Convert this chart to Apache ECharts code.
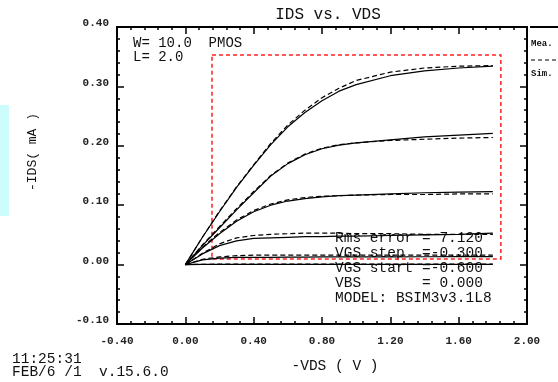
<!DOCTYPE html>
<html><head><meta charset="utf-8">
<script src="https://cdn.jsdelivr.net/npm/echarts@6/dist/echarts.min.js"></script>
<style>html,body{margin:0;padding:0;background:#fff}#c{width:558px;height:382px}</style>
</head><body><div id="c"></div>
<script>
// -VDS sweep (V)
const vds = [0, 0.1, 0.2, 0.3, 0.4, 0.5, 0.6, 0.7, 0.8, 0.9, 1.0, 1.2, 1.4, 1.6, 1.8];
// simulated -IDS (mA), VGS = -2.1 ... -0.6
const sim1 = [0, 0.046, 0.089, 0.130, 0.167, 0.202, 0.232, 0.256, 0.276, 0.292, 0.303, 0.318, 0.326, 0.331, 0.334];
const sim2 = [0, 0.032, 0.062, 0.092, 0.121, 0.149, 0.170, 0.185, 0.195, 0.201, 0.205, 0.210, 0.215, 0.218, 0.221];
const sim3 = [0, 0.028, 0.052, 0.073, 0.089, 0.100, 0.107, 0.111, 0.114, 0.116, 0.117, 0.119, 0.121, 0.122, 0.123];
const sim4 = [0, 0.018, 0.032, 0.040, 0.044, 0.045, 0.046, 0.047, 0.047, 0.048, 0.048, 0.049, 0.050, 0.051, 0.053];
const sim5 = [0, 0.008, 0.011, 0.012, 0.012, 0.012, 0.0125, 0.0125, 0.013, 0.013, 0.013, 0.013, 0.0132, 0.0134, 0.0135];
const sim6 = [0, 0.0003, 0.0004, 0.0005, 0.0005, 0.0005, 0.0005, 0.0005, 0.0005, 0.0005, 0.0005, 0.0005, 0.0005, 0.0005, 0.0005];
// measured -IDS (mA)
const mea1 = [0, 0.046, 0.090, 0.131, 0.168, 0.204, 0.235, 0.260, 0.281, 0.297, 0.310, 0.324, 0.331, 0.334, 0.335];
const mea2 = [0, 0.033, 0.064, 0.094, 0.123, 0.150, 0.171, 0.186, 0.196, 0.202, 0.205, 0.209, 0.211, 0.213, 0.214];
const mea3 = [0, 0.029, 0.054, 0.075, 0.091, 0.102, 0.109, 0.113, 0.115, 0.116, 0.117, 0.118, 0.118, 0.119, 0.119];
const mea4 = [0, 0.019, 0.035, 0.045, 0.049, 0.051, 0.052, 0.053, 0.053, 0.053, 0.052, 0.052, 0.051, 0.051, 0.051];
const mea5 = [0, 0.009, 0.013, 0.015, 0.016, 0.016, 0.016, 0.016, 0.016, 0.016, 0.016, 0.016, 0.016, 0.016, 0.016];
const mea6 = [0, 0.0005, 0.0008, 0.001, 0.001, 0.001, 0.001, 0.001, 0.001, 0.001, 0.001, 0.001, 0.001, 0.001, 0.001];
// fitting region (red dashed box)
const boxX = [0.156, 1.847];
const boxY = [0.0094, 0.353];

const simSets = [sim1, sim2, sim3, sim4, sim5, sim6];
const meaSets = [mea1, mea2, mea3, mea4, mea5, mea6];
const pairs = a => vds.map((v, i) => [v, a[i]]);

const MONO = '"Liberation Mono","DejaVu Sans Mono",monospace';
const series = [];
simSets.forEach((s, k) => series.push({
  type: 'line', data: pairs(s), symbol: 'none', silent: true,
  lineStyle: { color: '#000', width: 1.2, type: 'solid' },
  markArea: k === 0 ? {
    silent: true,
    itemStyle: { color: 'rgba(0,0,0,0)', borderColor: '#ff2020', borderWidth: 1.5, borderType: [4, 3] },
    data: [[{ coord: [boxX[0], boxY[1]] }, { coord: [boxX[1], boxY[0]] }]]
  } : undefined
}));
meaSets.forEach(s => series.push({
  type: 'line', data: pairs(s), symbol: 'none', silent: true,
  lineStyle: { color: '#000', width: 1.2, type: [5, 3] }
}));

const tickLab = { fontFamily: MONO, fontWeight: 'bold', fontSize: 11, color: '#222' };
const lineSt = { color: '#000', width: 2 };

const txt = (x, y, s, size, extra) => Object.assign({
  type: 'text', x: x, y: y,
  style: Object.assign({ text: s, fontFamily: MONO, fontSize: size, fill: '#111', verticalAlign: 'middle', align: 'left' }, extra || {})
});

const chart = echarts.init(document.getElementById('c'), null, { renderer: 'canvas' });
chart.setOption({
  animation: false,
  backgroundColor: '#fff',
  grid: { left: 117, top: 27, width: 410, height: 297 },
  xAxis: [{
    type: 'value', min: -0.4, max: 2.0, interval: 0.4, position: 'bottom',
    axisLine: { show: true, onZero: false, lineStyle: lineSt },
    axisTick: { show: true, inside: true, length: 7, lineStyle: { color: '#000', width: 1.5 } },
    minorTick: { show: true, splitNumber: 5, length: 3, lineStyle: { color: '#000', width: 1.5 } },
    splitLine: { show: false },
    axisLabel: Object.assign({ margin: 12, formatter: v => v.toFixed(2) }, tickLab)
  }, {
    type: 'value', min: -0.4, max: 2.0, interval: 0.4, position: 'top',
    axisLine: { show: true, onZero: false, lineStyle: lineSt },
    axisTick: { show: true, inside: true, length: 7, lineStyle: { color: '#000', width: 1.5 } },
    minorTick: { show: true, splitNumber: 5, length: 3, lineStyle: { color: '#000', width: 1.5 } },
    splitLine: { show: false }, axisLabel: { show: false }
  }],
  yAxis: [{
    type: 'value', min: -0.1, max: 0.4, interval: 0.1, position: 'left',
    axisLine: { show: true, onZero: false, lineStyle: lineSt },
    axisTick: { show: true, inside: true, length: 7, lineStyle: { color: '#000', width: 1.5 } },
    minorTick: { show: true, splitNumber: 5, length: 3, lineStyle: { color: '#000', width: 1.5 } },
    splitLine: { show: false },
    axisLabel: Object.assign({ margin: 8, formatter: v => v.toFixed(2), verticalAlign: 'bottom', lineHeight: 7 }, tickLab)
  }, {
    type: 'value', min: -0.1, max: 0.4, interval: 0.1, position: 'right',
    axisLine: { show: true, onZero: false, lineStyle: lineSt },
    axisTick: { show: true, inside: true, length: 7, lineStyle: { color: '#000', width: 1.5 } },
    minorTick: { show: true, splitNumber: 5, length: 3, lineStyle: { color: '#000', width: 1.5 } },
    splitLine: { show: false }, axisLabel: { show: false }
  }],
  series: series,
  graphic: [
    { type: 'rect', shape: { x: 0, y: 105, width: 9, height: 111 }, style: { fill: '#ccfcfc' }, silent: true },
    Object.assign(txt(33, 152, '-IDS( mA )', 13, { align: 'center' }), { rotation: Math.PI / 2 }),
    txt(328, 15, 'IDS vs. VDS', 16, { align: 'center' }),
    txt(133, 43, 'W= 10.0  PMOS', 14),
    txt(133, 57, 'L= 2.0', 14),
    txt(335, 238, 'Rms error = 7.120', 14.5),
    txt(335, 253, 'VGS step  =-0.300', 14.5),
    txt(335, 268, 'VGS start =-0.600', 14.5),
    txt(335, 283, 'VBS       = 0.000', 14.5),
    txt(335, 298, 'MODEL: BSIM3v3.1L8', 14.5),
    txt(335, 366, '-VDS ( V )', 14.5, { align: 'center' }),
    txt(12, 359, '11:25:31', 14.5),
    txt(12, 372, 'FEB/6 /1  v.15.6.0', 14.5),
    txt(531, 44, 'Mea.', 9, { fontWeight: 'bold' }),
    txt(531, 74, 'Sim.', 9, { fontWeight: 'bold' }),
    { type: 'line', shape: { x1: 531, y1: 60, x2: 558, y2: 60 }, style: { stroke: '#000', lineWidth: 1, lineDash: [4, 3] }, silent: true },
    { type: 'line', shape: { x1: 530, y1: 27, x2: 558, y2: 27 }, style: { stroke: '#000', lineWidth: 2 }, silent: true }
  ]
});
</script></body></html>
